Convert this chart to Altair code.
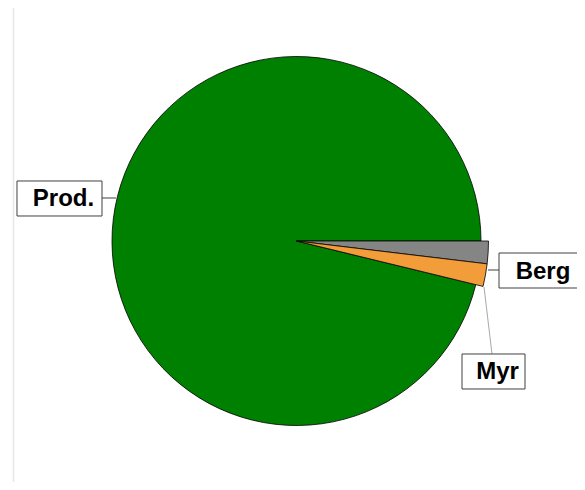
import altair as alt
import pandas as pd

# ---- data ----
categories = ["Berg", "Myr", "Prod."]
values = [1.9, 1.9, 96.2]
slice_order = [0, 1, 2]
colors = ["#858585", "#F39C3A", "#008000"]

label_text = ["Prod.", "Berg", "Myr"]

# ---- layout (pie units: centre = 0,0, radius = 1) ----
W, H = 569, 474
CX, CY = 288.5, 233.0
R = 184.5
R_OUT = 192.0
XD = [(0 - CX) / R, (W - CX) / R]
YD = [(CY - H) / R, CY / R]

box_cx = [-1.2846, 1.3144, 1.0678]
box_cy = [0.2304, -0.1599, -0.7073]
box_w = [85, 80, 63]
box_h = [35, 35, 35]

lead_x1 = [-1.0542, 1.0379, 1.0163]
lead_y1 = [0.2331, -0.1572, -0.2493]
lead_x2 = [-0.9783, 1.0976, 1.0596]
lead_y2 = [0.2331, -0.1572, -0.6125]
lead_col = ["#404040", "#404040", "#a8a8a8"]

pie_df = pd.DataFrame({"cat": categories, "val": values, "ord": slice_order})

boxes = pd.DataFrame({
    "label": label_text,
    "lx": box_cx,
    "ly": box_cy,
    "x1": [c - w / 2 / R for c, w in zip(box_cx, box_w)],
    "x2": [c + w / 2 / R for c, w in zip(box_cx, box_w)],
    "y1": [c - h / 2 / R for c, h in zip(box_cy, box_h)],
    "y2": [c + h / 2 / R for c, h in zip(box_cy, box_h)],
})
leaders = pd.DataFrame({"x1": lead_x1, "y1": lead_y1, "x2": lead_x2,
                        "y2": lead_y2, "col": lead_col})

xs = alt.Scale(domain=XD, nice=False, zero=False)
ys = alt.Scale(domain=YD, nice=False, zero=False)

base = (
    alt.Chart(pie_df)
    .transform_joinaggregate(total="sum(val)")
    .transform_window(cum="sum(val)", sort=[alt.SortField("ord")], frame=[None, 0])
    .transform_calculate(
        t0="PI/2 + 2*PI*(datum.cum - datum.val)/datum.total",
        t1="PI/2 + 2*PI*datum.cum/datum.total",
    )
)
color_enc = alt.Color("cat:N", scale=alt.Scale(domain=categories, range=colors), legend=None)

green = base.transform_filter("datum.cat == 'Prod.'").mark_arc(
    radius=R, stroke="black", strokeWidth=0.8
).encode(
    theta=alt.Theta("t0:Q", scale=None), theta2="t1:Q", color=color_enc,
    x=alt.value(CX), y=alt.value(CY),
)
expl = base.transform_filter("datum.cat != 'Prod.'").mark_arc(
    radius=R_OUT, stroke="black", strokeWidth=0.8
).encode(
    theta=alt.Theta("t0:Q", scale=None), theta2="t1:Q", color=color_enc,
    x=alt.value(CX), y=alt.value(CY),
)

lead = alt.Chart(leaders).mark_rule(strokeWidth=1).encode(
    x=alt.X("x1:Q", scale=xs, axis=None), y=alt.Y("y1:Q", scale=ys, axis=None),
    x2="x2:Q", y2="y2:Q", color=alt.Color("col:N", scale=None),
)

rects = alt.Chart(boxes).mark_rect(fill="white", stroke="#404040", strokeWidth=1).encode(
    x=alt.X("x1:Q", scale=xs, axis=None), x2="x2:Q",
    y=alt.Y("y1:Q", scale=ys, axis=None), y2="y2:Q",
)
texts = alt.Chart(boxes).mark_text(
    font="Liberation Sans", fontWeight="bold", fontSize=24, dx=4, dy=1,
    align="center", baseline="middle", color="black",
).encode(
    x=alt.X("lx:Q", scale=xs, axis=None), y=alt.Y("ly:Q", scale=ys, axis=None),
    text="label:N",
)

edge = alt.Chart(pd.DataFrame({"a": [0]})).mark_rule(color="#e6e6e6", strokeWidth=1.5).encode(
    x=alt.value(5.5), y=alt.value(-2), y2=alt.value(H + 8)
)

chart = alt.layer(edge, green, expl, lead, rects, texts).properties(
    width=W, height=H, padding=0, autosize=alt.AutoSizeParams(type="none")
).configure_view(stroke=None)

chart.save("out.html", embed_options={"renderer": "svg", "actions": False})
